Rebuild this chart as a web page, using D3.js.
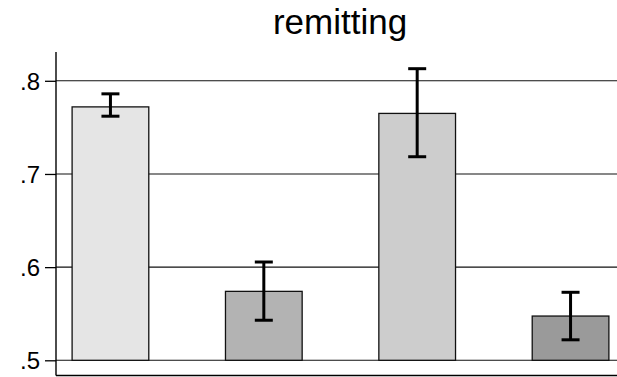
<!DOCTYPE html>
<html>
<head>
<meta charset="utf-8">
<script src="https://cdn.jsdelivr.net/npm/d3@7/dist/d3.min.js"></script>
<style>
  html, body { margin: 0; padding: 0; background: #fff; }
  svg { display: block; font-family: "Liberation Sans", Arial, sans-serif; }
</style>
</head>
<body>
<svg id="chart" width="617" height="377"></svg>
<script>
// Group means with confidence intervals
const groups = ["g1", "g2", "g3", "g4"];
const means  = [0.772, 0.574, 0.765, 0.5475];
const lower  = [0.762, 0.543, 0.7185, 0.522];
const upper  = [0.786, 0.6055, 0.813, 0.573];
const fills  = ["#e5e5e5", "#b3b3b3", "#cdcdcd", "#9a9a9a"];
const yTicks = [0.5, 0.6, 0.7, 0.8];
const title  = "remitting";

const svg = d3.select("#chart");
const W = 617, H = 377;

const axisX = 56;
const axisBottom = 375.5;

// value scale: .5 sits at 360.3, .8 at 80.8
const y = d3.scaleLinear().domain([0.5, 0.8]).range([360.3, 80.8]);
const yTop = y.invert(52);

const x = d3.scaleBand()
  .domain(groups)
  .range([axisX, 625])
  .paddingInner(0.5)
  .paddingOuter(0.105);

// title
svg.append("text")
  .attr("x", 340).attr("y", 34)
  .attr("text-anchor", "middle")
  .attr("font-size", 35)
  .attr("fill", "#000")
  .text(title);

// horizontal grid lines
svg.append("g").selectAll("line")
  .data(yTicks)
  .join("line")
  .attr("x1", axisX).attr("x2", W)
  .attr("y1", d => y(d)).attr("y2", d => y(d))
  .attr("stroke", "#111")
  .attr("stroke-width", 1.1);

// y axis with ticks and labels
const yAxis = d3.axisLeft(y)
  .tickValues(yTicks)
  .tickSize(11)
  .tickPadding(5)
  .tickFormat(d => d3.format(".1f")(d).replace(/^0/, ""));

const gy = svg.append("g")
  .attr("transform", `translate(${axisX},0)`)
  .call(yAxis);
gy.select(".domain").remove();
gy.selectAll(".tick line").attr("stroke", "#000").attr("stroke-width", 1.3);
gy.selectAll(".tick text")
  .attr("font-size", 24)
  .attr("fill", "#000")
  .attr("font-family", "Liberation Sans, Arial, sans-serif")
  .attr("dy", "0.36em");

// axis lines
svg.append("line")
  .attr("x1", axisX).attr("x2", axisX)
  .attr("y1", y(yTop)).attr("y2", axisBottom)
  .attr("stroke", "#000").attr("stroke-width", 1.4);
svg.append("line")
  .attr("x1", axisX).attr("x2", W)
  .attr("y1", axisBottom).attr("y2", axisBottom)
  .attr("stroke", "#000").attr("stroke-width", 1.4);

// bars rising from .5
svg.append("g").selectAll("rect")
  .data(groups)
  .join("rect")
  .attr("x", d => x(d))
  .attr("width", x.bandwidth())
  .attr("y", (d, i) => y(means[i]))
  .attr("height", (d, i) => y(0.5) - y(means[i]))
  .attr("fill", (d, i) => fills[i])
  .attr("stroke", "#111")
  .attr("stroke-width", 1.3);

// error bars
const eb = svg.append("g").selectAll("g")
  .data(groups)
  .join("g")
  .attr("transform", d => `translate(${x(d) + x.bandwidth() / 2},0)`);
eb.append("line")
  .attr("y1", (d, i) => y(lower[i])).attr("y2", (d, i) => y(upper[i]))
  .attr("stroke", "#000").attr("stroke-width", 3);
eb.append("line")
  .attr("x1", -9).attr("x2", 9)
  .attr("y1", (d, i) => y(upper[i])).attr("y2", (d, i) => y(upper[i]))
  .attr("stroke", "#000").attr("stroke-width", 3);
eb.append("line")
  .attr("x1", -9).attr("x2", 9)
  .attr("y1", (d, i) => y(lower[i])).attr("y2", (d, i) => y(lower[i]))
  .attr("stroke", "#000").attr("stroke-width", 3);
</script>
</body>
</html>
